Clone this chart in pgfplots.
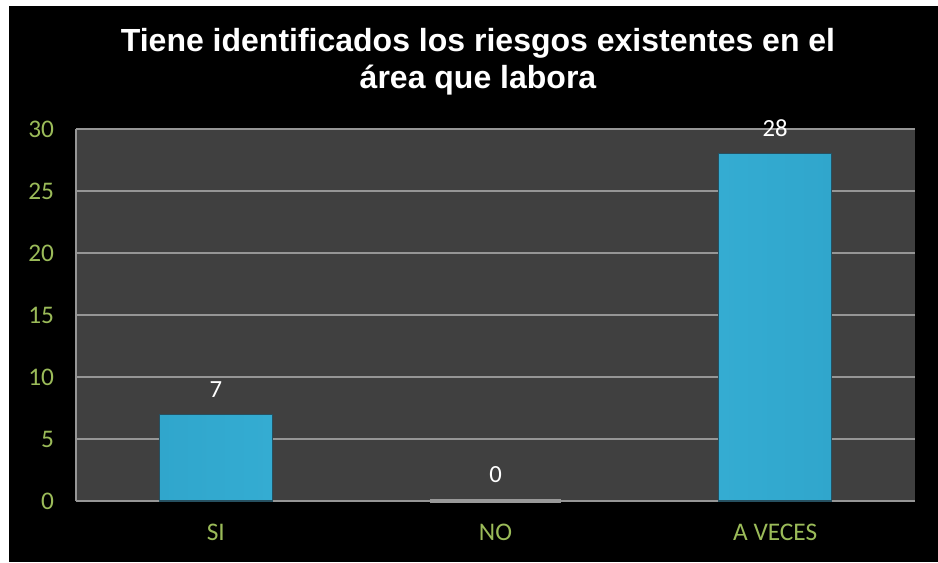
\documentclass[border=0pt]{standalone}
\usepackage{pgfplots}
\pgfplotsset{compat=1.18}
\usepackage{fontspec}
\setmainfont{Carlito}
\newfontfamily\titlefont{Liberation Sans}

\definecolor{plotbg}{RGB}{64,64,64}
\definecolor{gridc}{RGB}{150,150,150}
\definecolor{tickgreen}{RGB}{155,187,89}
\definecolor{barmid}{RGB}{60,184,222}
\definecolor{baredge}{RGB}{48,166,204}
\definecolor{barline}{RGB}{38,80,96}

\begin{document}
\begin{tikzpicture}[x=0.75pt,y=-0.75pt]
% page and black panel
\path[use as bounding box, fill=white] (0,0) rectangle (938,562);
\fill[black] (9,6) rectangle (938,562);

\node[align=center, text=white, font=\titlefont\bfseries\fontsize{24}{28}\selectfont]
  at (478,62) {Tiene identificados los riesgos existentes en el\\área que labora};

\begin{axis}[
    at={(57pt,-375.75pt)}, anchor=south west,
    scale only axis,
    width=629.25pt, height=279pt,
    xmin=-0.5, xmax=2.5,
    ymin=0, ymax=30,
    ytick={0,5,...,30},
    xtick={0,1,2},
    xticklabels={SI,NO,A VECES},
    major tick length=0pt,
    axis lines*=left,
    axis line style={draw=gridc, line width=1.4pt},
    axis background/.style={fill=plotbg},
    ymajorgrids,
    grid style={draw=gridc, line width=0.9pt},
    /pgf/number format/assume math mode=true,
    yticklabel style={text=tickgreen, font=\fontsize{19}{22}\selectfont, xshift=-13pt},
    xticklabel style={text=tickgreen, font=\fontsize{19}{22}\selectfont, yshift=-14pt},
    ybar, bar width=84.75pt,
    nodes near coords,
    every node near coord/.append style={text=white, font=\fontsize{18.5}{22}\selectfont, yshift=9pt},
    clip=false,
]
\addplot[bar shift=0pt, draw=barline, line width=0.8pt, left color=baredge, right color=baredge, middle color=barmid]
  coordinates {(0,7) (2,28)};
\addplot[bar shift=0pt, draw=gray!80, line width=2.5pt, bar width=98pt]
  coordinates {(1,0)};
\end{axis}
\end{tikzpicture}
\end{document}
